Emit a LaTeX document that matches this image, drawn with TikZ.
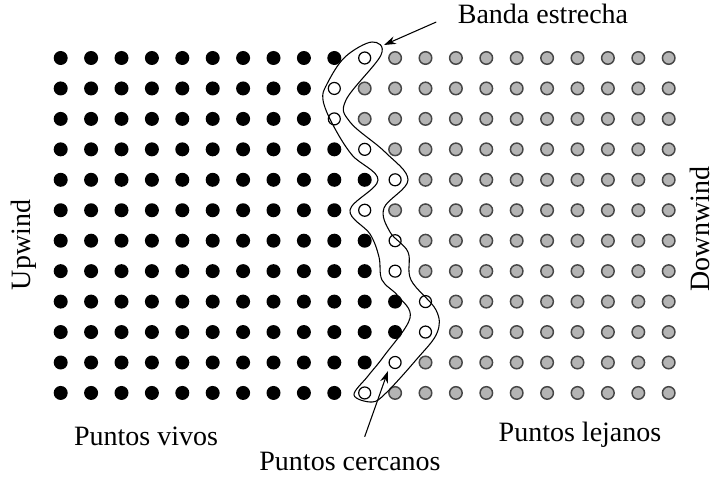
\documentclass[tikz,border=0pt]{standalone}
\usepackage{fontspec}
\setmainfont{Liberation Serif}
\usetikzlibrary{arrows.meta}
\definecolor{puntogris}{RGB}{180,180,180}
\definecolor{bordegris}{RGB}{70,70,70}
\tikzset{
	vivo/.style={circle,fill=black,inner sep=0pt,minimum size=10.5pt},
	cercano/.style={circle,draw=black,fill=white,line width=0.9pt,inner sep=0pt,minimum size=9pt},
	lejano/.style={circle,draw=bordegris,fill=puntogris,line width=1.1pt,inner sep=0pt,minimum size=9.4pt},
	etiqueta/.style={font=\fontsize{21}{25}\selectfont,inner sep=0pt},
	banda/.style={line width=0.8pt},
	flecha/.style={-{Stealth[length=9pt,width=6pt]},line width=0.8pt}
}
\begin{document}
\begin{tikzpicture}[x=0.75pt,y=-0.75pt]
		\useasboundingbox (0,0) rectangle (714,478);
		\foreach \w [count=\j from 0] in {10,9,9,10,11,10,11,11,12,12,11,10}
		\foreach \i in {0,...,20}{
			\ifnum\i<\w \node[vivo] (p\i-\j) at (60.7+30.4*\i,58+30.45*\j) {};
			\else\ifnum\i=\w \node[cercano] (p\i-\j) at (60.7+30.4*\i,58+30.45*\j) {};
			\else \node[lejano] (p\i-\j) at (60.7+30.4*\i,58+30.45*\j) {};
			\fi\fi
		}
		\draw[banda] plot[smooth cycle,tension=0.6] coordinates {(372,42) (381,55) (346,100) (350,122)
			(385,152) (408,180) (384,208) (390,232) (408,252) (411,280) (436,310) (437,333) (416,360)
			(386,393) (372,402) (354,395) (368,376) (384,356) (410,318) (398,296) (382,280) (379,257)
			(370,234) (350,210) (378,180) (352,155) (333,125) (323,100) (327,84) (345,57)};
		\node[etiqueta] (banda) at (543,14) {Banda estrecha};
		\node[etiqueta,rotate=90] (upwind) at (24,245) {Upwind};
		\node[etiqueta,rotate=90] (downwind) at (700,229) {Downwind};
		\node[etiqueta] (vivos) at (146,436) {Puntos vivos};
		\node[etiqueta] (lejanos) at (580,435) {Puntos lejanos};
		\node[etiqueta] (cercanos) at (350,461) {Puntos cercanos};
		\coordinate (puntabanda) at (384,45);
		\coordinate (puntacercanos) at (388,371);
		\draw[flecha] ([xshift=-16pt,yshift=-6pt]banda.west)--(puntabanda);
		\draw[flecha] ([xshift=11pt,yshift=11pt]cercanos.north)--(puntacercanos);
\end{tikzpicture}
\end{document}
